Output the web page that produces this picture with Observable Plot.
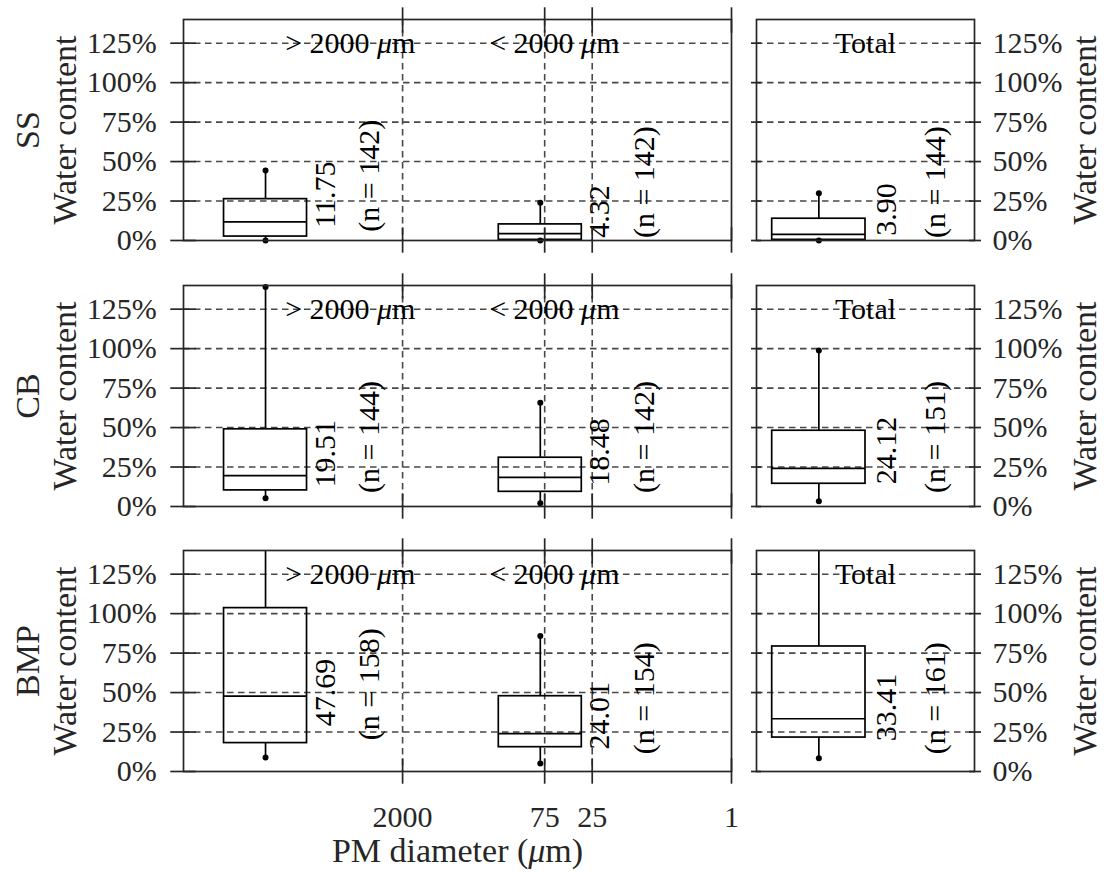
<!DOCTYPE html>
<html><head><meta charset="utf-8">
<script src="https://cdn.jsdelivr.net/npm/d3@7"></script>
<script src="https://cdn.jsdelivr.net/npm/@observablehq/plot@0.6"></script>
<style>
body{margin:0;background:#fff;}
#chart{position:relative;width:1104px;height:872px;overflow:hidden;background:#fff;}
#chart svg{position:absolute;overflow:visible;background:transparent;}
</style></head><body><div id="chart"></div>
<script>
// ---------- data ----------
const materials = ["SS", "CB", "BMP"];
const fractions = ["> 2000 μm", "< 2000 μm", "Total"];
const xTicks = [2000, 75, 25, 1];
const yTicks = [0, 25, 50, 75, 100, 125];
const yGridValues = [25, 50, 75, 100, 125];
const xGridValues = [2000, 75, 25];
// rows: materials; columns: fractions
const medians   = [[11.75, 4.32, 3.90], [19.51, 18.48, 24.12], [47.69, 24.01, 33.41]];
const q1        = [[2.5, 0.4, 0.4], [10.2, 9.3, 14.4], [18.0, 15.4, 21.5]];
const q3        = [[26.2, 10.2, 13.8], [48.9, 30.9, 48.0], [103.5, 47.7, 79.2]];
const whiskerLo = [[0.0, 0.0, 0.0], [5.3, 2.1, 3.4], [8.9, 5.1, 8.4]];
const whiskerHi = [[44.4, 23.9, 30.0], [139.0, 65.8, 98.8], [170, 85.9, 170]];
const counts    = [[142, 142, 144], [144, 142, 151], [158, 154, 161]];
const medLabelAt = [[29, 18.4, 19.6], [33.4, 34.5, 35.5], [50, 35.3, 40.5]];
const nLabelAt   = [[41, 37, 37], [44, 44, 44], [55.3, 46.4, 46.4]];

// ---------- layout ----------
const FONT = "Liberation Serif, Times New Roman, serif";
const INK = "#262626";
const rowTop = [19.3, 284.8, 550.3];
const panelH = 221;
const yMax = 140;
const leftBoxX = [47500, 83];      // centres on log axis
const leftHalf = 2.609;           // multiplicative half width on log axis
const fracLabelX = [6700, 60];
const rightBox = [0.072, 0.5];    // on [0,1] axis of Total panel
const LW = 1.7;
const TITLE = 34;

const chart = document.getElementById("chart");
const gridStyle = {stroke: "#484848", strokeOpacity: 1, strokeDasharray: "6.5,4.5", strokeWidth: 1.6};
const none = () => "";

function rowData(r, cols) {
  return cols.map(j => ({
    frac: fractions[j], med: medians[r][j], q1: q1[r][j], q3: q3[r][j],
    lo: whiskerLo[r][j], hi: whiskerHi[r][j], n: counts[r][j],
    medY: medLabelAt[r][j], nY: nLabelAt[r][j], j
  }));
}

function place(svg, left, top) {
  svg.style.left = left + "px";
  svg.style.top = top + "px";
  chart.appendChild(svg);
}

function leftPanel(r) {
  const last = r === materials.length - 1;
  const mb = last ? 101 : 25;
  const data = rowData(r, [0, 1]);
  const cx = d => leftBoxX[d.j];
  const svg = Plot.plot({
    width: 741, height: 19 + panelH + mb,
    marginLeft: 183, marginRight: 10, marginTop: 19, marginBottom: mb,
    x: {type: "log", domain: [10 ** 5.5, 1], axis: null},
    y: {domain: [0, yMax], axis: null},
    style: {fontFamily: FONT, fontSize: "30px", color: INK, background: "transparent", overflow: "visible"},
    marks: [
      Plot.gridY(yGridValues, gridStyle),
      Plot.gridX(xGridValues, gridStyle),
      Plot.ruleX(data, {x: cx, y1: "q3", y2: "hi", stroke: "black", strokeWidth: LW, clip: true}),
      Plot.ruleX(data, {x: cx, y1: "lo", y2: "q1", stroke: "black", strokeWidth: LW}),
      Plot.rect(data, {x1: d => cx(d) * leftHalf, x2: d => cx(d) / leftHalf, y1: "q1", y2: "q3", fill: "none", stroke: "black", strokeWidth: LW}),
      Plot.ruleY(data, {y: "med", x1: d => cx(d) * leftHalf, x2: d => cx(d) / leftHalf, stroke: "black", strokeWidth: LW}),
      Plot.dot(data, {x: cx, y: "hi", r: 3, fill: "black", filter: d => d.hi <= yMax}),
      Plot.dot(data, {x: cx, y: "lo", r: 3, fill: "black"}),
      Plot.text(data, {x: d => cx(d) / leftHalf, y: "medY", text: d => d.med.toFixed(2), rotate: -90, dx: 18, textAnchor: "middle", lineAnchor: "middle", fontSize: 30, fill: "black"}),
      Plot.text(data, {x: d => cx(d) / leftHalf, y: "nY", text: d => `(n = ${d.n})`, rotate: -90, dx: 62.5, textAnchor: "middle", lineAnchor: "middle", fontSize: 30, fill: "black"}),
      Plot.text(data, {x: d => fracLabelX[d.j], y: () => 125, text: "frac", fontSize: 30, fill: "black", lineAnchor: "middle"}),
      Plot.frame({stroke: INK, strokeWidth: LW}),
      Plot.axisY(yTicks, {anchor: "left", tickSize: 12.7, tickPadding: 14, tickFormat: d => d + "%", fontSize: 30, label: null, color: INK, strokeWidth: LW}),
      Plot.axisY(yTicks, {anchor: "left", tickSize: -12.7, tickFormat: none, label: null, color: INK, strokeWidth: LW}),
      Plot.axisX(xTicks, {anchor: "bottom", tickSize: 12.7, tickFormat: none, label: null, color: INK, strokeWidth: LW}),
      Plot.axisX(xTicks, {anchor: "bottom", tickSize: -12.7, tickFormat: none, label: null, color: INK, strokeWidth: LW}),
      Plot.axisX(xTicks, {anchor: "top", tickSize: 12.7, tickFormat: none, label: null, color: INK, strokeWidth: LW}),
      Plot.axisX(xTicks, {anchor: "top", tickSize: -12.7, tickFormat: none, label: null, color: INK, strokeWidth: LW}),
      Plot.text([materials[r]], {frameAnchor: "left", text: d => d, rotate: -90, dx: -155, textAnchor: "middle", lineAnchor: "middle", fontSize: TITLE, fill: INK}),
      Plot.text(["Water content"], {frameAnchor: "left", text: d => d, rotate: -90, dx: -118, textAnchor: "middle", lineAnchor: "middle", fontSize: TITLE, fill: INK}),
      ...(last ? [
        Plot.text(xTicks, {x: d => d, frameAnchor: "bottom", text: d => String(d), dy: 34, textAnchor: "middle", lineAnchor: "top", fontSize: 30, fill: INK}),
        Plot.text(["PM diameter (μm)"], {frameAnchor: "bottom", text: d => d, dy: 80, textAnchor: "middle", lineAnchor: "middle", fontSize: TITLE, fill: INK})
      ] : [])
    ]
  });
  place(svg, 0, rowTop[r] - 19);
}

function rightPanel(r) {
  const data = rowData(r, [2]);
  const cx = (rightBox[0] + rightBox[1]) / 2;
  const svg = Plot.plot({
    width: 363, height: 19 + panelH + 25,
    marginLeft: 15, marginRight: 130, marginTop: 19, marginBottom: 25,
    x: {domain: [0, 1], axis: null},
    y: {domain: [0, yMax], axis: null},
    style: {fontFamily: FONT, fontSize: "30px", color: INK, background: "transparent", overflow: "visible"},
    marks: [
      Plot.gridY(yGridValues, gridStyle),
      Plot.ruleX(data, {x: () => cx, y1: "q3", y2: "hi", stroke: "black", strokeWidth: LW, clip: true}),
      Plot.ruleX(data, {x: () => cx, y1: "lo", y2: "q1", stroke: "black", strokeWidth: LW}),
      Plot.rect(data, {x1: () => rightBox[0], x2: () => rightBox[1], y1: "q1", y2: "q3", fill: "none", stroke: "black", strokeWidth: LW}),
      Plot.ruleY(data, {y: "med", x1: () => rightBox[0], x2: () => rightBox[1], stroke: "black", strokeWidth: LW}),
      Plot.dot(data, {x: () => cx, y: "hi", r: 3, fill: "black", filter: d => d.hi <= yMax}),
      Plot.dot(data, {x: () => cx, y: "lo", r: 3, fill: "black"}),
      Plot.text(data, {x: () => rightBox[1], y: "medY", text: d => d.med.toFixed(2), rotate: -90, dx: 21, textAnchor: "middle", lineAnchor: "middle", fontSize: 30, fill: "black"}),
      Plot.text(data, {x: () => rightBox[1], y: "nY", text: d => `(n = ${d.n})`, rotate: -90, dx: 69.5, textAnchor: "middle", lineAnchor: "middle", fontSize: 30, fill: "black"}),
      Plot.text(data, {x: () => 0.5, y: () => 125, text: "frac", fontSize: 30, fill: "black", lineAnchor: "middle"}),
      Plot.frame({stroke: INK, strokeWidth: LW}),
      Plot.axisY(yTicks, {anchor: "left", tickSize: 5, tickFormat: none, label: null, color: INK, strokeWidth: LW}),
      Plot.axisY(yTicks, {anchor: "left", tickSize: -5, tickFormat: none, label: null, color: INK, strokeWidth: LW}),
      Plot.axisY(yTicks, {anchor: "right", tickSize: 6, tickPadding: 12, tickFormat: d => d + "%", fontSize: 30, label: null, color: INK, strokeWidth: LW}),
      Plot.axisY(yTicks, {anchor: "right", tickSize: -6, tickFormat: none, label: null, color: INK, strokeWidth: LW}),
      Plot.text(["Water content"], {frameAnchor: "right", text: d => d, rotate: -90, dx: 111, textAnchor: "middle", lineAnchor: "middle", fontSize: TITLE, fill: INK})
    ]
  });
  place(svg, 741, rowTop[r] - 19);
}

materials.forEach((m, r) => { leftPanel(r); rightPanel(r); });

// italic μ, as in the TeX-rendered original
(function italicMu(root) {
  const walker = document.createTreeWalker(root, NodeFilter.SHOW_TEXT);
  const nodes = [];
  while (walker.nextNode()) if (walker.currentNode.nodeValue.includes("μ")) nodes.push(walker.currentNode);
  for (const n of nodes) {
    const parts = n.nodeValue.split("μ");
    const frag = document.createDocumentFragment();
    parts.forEach((p, i) => {
      if (i > 0) {
        const t = document.createElementNS("http://www.w3.org/2000/svg", "tspan");
        t.setAttribute("font-style", "italic");
        t.textContent = "μ";
        frag.appendChild(t);
      }
      if (p) frag.appendChild(document.createTextNode(p));
    });
    n.parentNode.replaceChild(frag, n);
  }
})(chart);
</script></body></html>
